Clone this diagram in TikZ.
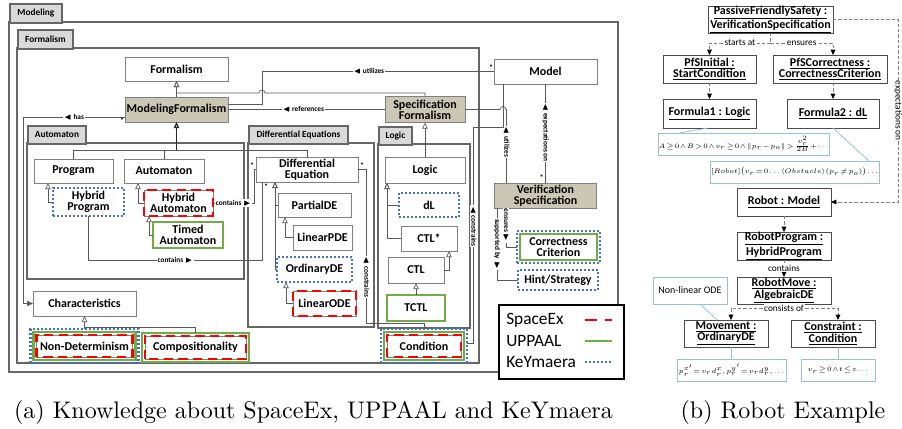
\documentclass[tikz,border=0pt]{standalone}
\usepackage{fontspec}
\usepackage{amsmath,amssymb}
\newfontfamily\calibri{Carlito}
\usepackage{xcolor}
\usepackage{tikz}
\usetikzlibrary{positioning}
\usetikzlibrary{arrows,arrows.meta,shapes}
\usetikzlibrary{calc}
\definecolor{tanbox}{RGB}{204,199,181}
\definecolor{tabgray}{RGB}{217,217,217}
\definecolor{spxred}{RGB}{255,0,0}
\definecolor{uplgreen}{RGB}{112,173,71}
\definecolor{kymblue}{RGB}{68,114,196}
\definecolor{noteblue}{RGB}{150,190,228}
\newcommand{\notemath}{\fontsize{5.5}{6.5}\selectfont\thickmuskip=2mu\medmuskip=1mu\thinmuskip=1.5mu}
\tikzstyle{frame}=[draw=black!60, line width=1.4pt]
\tikzstyle{tab}=[frame, rectangle, fill=tabgray, font=\calibri\bfseries\fontsize{7}{8}\selectfont, inner sep=0pt]
\tikzstyle{cls}=[rectangle, draw=black!50, fill=white, font=\calibri\bfseries\fontsize{9}{8.5}\selectfont, align=center, inner sep=0pt, outer sep=0pt]
\tikzstyle{tancls}=[cls, fill=tanbox]
\tikzstyle{obj}=[cls, draw=black!70, line width=0.6pt]
\tikzstyle{note}=[rectangle, draw=noteblue, line width=0.7pt, fill=white, inner sep=0pt, outer sep=0pt]
\tikzstyle{spx}=[draw=spxred, line width=2pt, dash pattern=on 7pt off 4pt]
\tikzstyle{upl}=[draw=uplgreen, line width=2pt]
\tikzstyle{kym}=[draw=kymblue, line width=2pt, dash pattern=on 1.5pt off 1.5pt]
\tikzstyle{conn}=[draw=black!65, line width=0.5pt]
\tikzstyle{gen}=[conn, -{Triangle[open, length=4.5pt, width=4pt]}]
\tikzstyle{lbl}=[font=\calibri\bfseries\fontsize{5.5}{6}\selectfont, fill=white, inner sep=0.6pt]
\tikzstyle{mult}=[font=\calibri\bfseries\fontsize{6}{6}\selectfont, inner sep=0pt]
\tikzstyle{dline}=[draw=black!50, line width=0.6pt, dash pattern=on 2.5pt off 1.5pt]
\tikzstyle{dep}=[dline, -{Triangle[length=4pt, width=3.5pt, color=black]}]
\tikzstyle{noteln}=[draw=noteblue, line width=0.6pt]
\tikzstyle{rlbl}=[font=\calibri\fontsize{7}{8}\selectfont, fill=white, inner sep=0.5pt]
\tikzstyle{caption}=[font=\fontsize{10}{12}\selectfont, scale=1.8, anchor=base]
\tikzset{sz/.style 2 args={minimum width=#1*0.75pt, minimum height=#2*0.75pt}}

\begin{document}
\begin{tikzpicture}[x=0.75pt, y=-0.75pt]
\useasboundingbox (0,0) rectangle (902,428);

 %frames
 \draw[frame] (9,22) rectangle (618,372);
 \node[tab, sz={52}{19}, anchor=north west] (tabmod) at (9,3) {Modeling};
 \draw[frame] (17,48) rectangle (479,363);
 \node[tab, sz={55}{19}, anchor=north west] (tabfrm) at (17,29) {Formalism};
 \draw[frame] (27,143) rectangle (244,279);
 \node[tab, sz={58}{18}, anchor=north west] (tabaut) at (27,125) {Automaton};
 \draw[frame] (248,143) rectangle (374,327);
 \node[tab, sz={99}{18}, anchor=north west] (tabde) at (248,125) {Differential Equations};
 \draw[frame] (378,144) rectangle (470,328);
 \node[tab, sz={33}{18}, anchor=north west] (tablog) at (378,126) {Logic};

 %classes
 \foreach \x/\y/\w/\h/\name/\label in {
   176.5/69/103/24/frm/Formalism, 73.5/171/79/24/prog/Program, 164/171/80/24/aut/Automaton,
   307/169.5/102/25/diffeq/{Differential\\Equation}, 314.5/205/73/24/pde/PartialDE,
   322.5/237.5/59/25/lpde/LinearPDE, 425/170/80/26/logic/Logic, 429/238.5/56/25/ctls/CTL*,
   416/270/56/26/ctl/CTL, 545.5/71.5/103/25/model/Model, 84.5/303.5/103/25/chars/Characteristics,
   178.5/203/69/26/haut/{Hybrid\\Automaton}, 324.5/303.5/63/25/lode/LinearODE,
   424/346/74/22/cond/Condition, 84.5/346/96/22/nondet/Non-Determinism,
   195.5/347.5/101/23/comp/Compositionality}
    \node[cls, sz={\w}{\h}] (\name) at (\x,\y) {\label};

 \foreach \x/\y/\w/\h/\name/\label in {
   176.5/109.5/103/25/modf/ModelingFormalism, 425/109.5/80/26/specf/{Specification\\Formalism},
   545.5/195.5/102/25/vspec/{Verification\\Specification}}
    \node[tancls, sz={\w}{\h}] (\name) at (\x,\y) {\label};

 \foreach \x/\y/\w/\h/\name/\label in {
   88.5/202/71/28/hprog/{Hybrid\\Program}, 314.5/269.5/75/25/ode/OrdinaryDE, 429/205/60/24/dl/dL}
    \node[cls, kym, sz={\w}{\h}] (\name) at (\x,\y) {\label};
 \node[cls, kym, sz={80}{20}] (hint) at (558,280) {Hint/Strategy};

 \foreach \x/\y/\w/\h/\name/\label in {
   188/235/70/26/taut/{Timed\\Automaton}, 416/308/58/26/tctl/TCTL, 558.5/247/77/26/corr/{Correctness\\Criterion}}
    \node[cls, upl, sz={\w}{\h}] (\name) at (\x,\y) {\label};

 %tool marks
 \foreach \name in {haut, lode, cond, nondet, comp}
    \draw[spx] (\name.south west) rectangle (\name.north east);
 \foreach \name in {cond, nondet, comp}
    \draw[upl] ($(\name.south west)+(-3,3)$) rectangle ($(\name.north east)+(3,-3)$);
 \foreach \name in {cond, nondet}
    \draw[kym] ($(\name.south west)+(-6,6)$) rectangle ($(\name.north east)+(6,-6)$);
 \draw[kym] ($(corr.south west)+(-3,3)$) rectangle ($(corr.north east)+(3,-3)$);

 %generalizations
 \coordinate (hopA) at (262,93);
 \coordinate (bus) at (176.5,150);
 \draw[gen] (modf.north) -- (frm.south);
 \draw[gen] (specf.north) |- ($(hopA)+(3,0)$) arc[start angle=0, end angle=-180, radius=3] -| (frm.south);
 \draw[conn] (prog.north) |- (bus);
 \draw[conn] (aut.north) |- (bus);
 \draw[conn] (diffeq.north) |- (bus);
 \draw[gen, line width=0.9pt, draw=black!85] (bus) -- (modf.south);
 \draw[gen] (hprog.west) -- ++(-5,0) -- ($(prog.south west)+(14,0)$);
 \draw[gen] (haut.west) -- ++(-6,0) -- ($(aut.south west)+(14,0)$);
 \draw[gen] (taut.west) -- ++(-4,0) -- ($(haut.south west)+(5,0)$);
 \draw[gen] (pde.west) -| ($(diffeq.south west)+(19,0)$);
 \draw[gen] (ode.west) -| ($(diffeq.south west)+(19,0)$);
 \draw[gen] (lpde.west) -| ($(pde.south west)+(7,0)$);
 \draw[gen] (lode.west) -| ($(ode.south west)+(9,0)$);
 \draw[gen] (logic.north) -- (specf.south);
 \draw[gen] (dl.west) -| ($(logic.south west)+(2,0)$);
 \draw[gen] (ctls.west) -| ($(logic.south west)+(2,0)$);
 \draw[gen] (ctl.east) -| ($(ctls.south east)+(-8,0)$);
 \draw[gen] (tctl.north) -- (ctl.south);
 \draw[gen] ($(nondet.north)+(0,-6)$) -- (chars.south);
 \draw[conn] ($(comp.north)+(0,-3)$) |- ($(chars.south)+(0,11)$);

 %associations
 \draw[conn, -{Triangle[length=4.5pt, width=4pt]}] ($(modf.south west)+(0,-5)$) -- ++(-102,0)
    node[lbl, pos=0.5] {$\blacktriangleleft$ has} |- (chars.west);
 \node[mult] (st1) at ($(modf.south west)+(-3,-1)$) {*};
 \draw[conn] (haut.east) -- ++(41,0) node[lbl, pos=0.5] {contains $\blacktriangleright$} |- (diffeq.west);
 \node[mult] (st2) at ($(diffeq.west)+(-4,-4)$) {*};
 \coordinate (c2) at ($(diffeq.south west)+(6,78)$);
 \draw[conn] (hprog.south) |- (c2) node[lbl, pos=0.75] {contains $\blacktriangleright$}
    -- ($(diffeq.south west)+(6,0)$);
 \node[mult] (st3) at ($(diffeq.south west)+(10,5)$) {*};
 \draw[conn] (modf.east) -- (specf.west) node[lbl, pos=0.48] {$\blacktriangleleft$ references};
 \draw[conn] (model.west) -- ++(-232,0) node[lbl, pos=0.54] {$\blacktriangleleft$ utilizes}
    |- ($(modf.east)+(0,-5.5)$);
 \node[mult] (st4) at ($(model.west)+(-3,-4)$) {*};
 \draw[conn] ($(vspec.north west)+(12,0)$) -- ++(0,-73.5)
    node[lbl, rotate=-90, pos=0.56] {$\blacktriangleleft$ utilizes}
    -- ($(model.south west |- specf.east)+(12,0)$) arc[start angle=0, end angle=-180, radius=3] -- (specf.east);
 \draw[conn] (model.south) -- (vspec.north) node[lbl, rotate=-90, pos=0.49] {$\blacktriangleleft$ expectations on};
 \node[mult] (st5) at ($(vspec.north)+(-4,-5)$) {*};
 \draw[conn] ($(cond.east)+(6,-3)$) -- ++(6.5,0) |- ($(model.south west)+(9,43)$)
    node[lbl, rotate=-90, pos=0.27] {$\blacktriangleleft$ constrains} -- ($(model.south west)+(9,0)$);
 \draw[conn] ($(cond.north)+(0,-6)$) -- ++(0,-6) -| ($(diffeq.east)+(8.5,0)$)
    node[lbl, rotate=-90, pos=0.65] {$\blacktriangleleft$ constrains} -- (diffeq.east);
 \node[mult] (st6) at ($(diffeq.east)+(4,-4)$) {*};
 \draw[conn] ($(vspec.south west)+(11.5,0)$) |- ($(corr.west)+(-3,0)$)
    node[lbl, rotate=-90, pos=0.22] {ensures $\blacktriangleright$};
 \draw[conn] ($(vspec.south west)+(2.5,0)$) |- (hint.west)
    node[lbl, rotate=-90, pos=0.25] {supported by $\blacktriangleright$};

 %legend
 \node[draw=black, line width=1.5pt, fill=white, sz={125}{74}, anchor=north west] (legend) at (498,304) {};
 \foreach \y/\name/\label in {320/lspx/SpaceEx, 341/lupl/UPPAAL, 362/lkym/KeYmaera}
    \node[font=\calibri\fontsize{13}{14}\selectfont, anchor=west, inner sep=0pt] (\name) at (506,\y) {\label};
 \draw[spx, dash pattern=on 9pt off 6pt] (585,320) -- (612,320);
 \draw[upl] (585,341) -- (612,341);
 \draw[kym] (585,362) -- (612,362);

 %robot example
 \foreach \x/\y/\w/\h/\name/\label in {
   770.5/19.5/125/27/pfs/{\underline{PassiveFriendlySafety :}\\\underline{VerificationSpecification}},
   709.5/69/93/28/pfsi/{\underline{PfSInitial :}\\\underline{StartCondition}},
   830/69/114/28/pfsc/{\underline{PfSCorrectness :}\\\underline{CorrectnessCriterion}},
   709.5/113.5/93/29/fa/{\underline{Formula1 : Logic}}, 833/113.5/92/29/fb/{\underline{Formula2 : dL}},
   784/202/94/28/robot/{\underline{Robot : Model}},
   784/246/94/28/rprog/{\underline{RobotProgram :}\\\underline{HybridProgram}},
   784/290.5/94/27/rmove/{\underline{RobotMove :}\\\underline{AlgebraicDE}},
   726/333.5/84/27/mov/{\underline{Movement :}\\\underline{OrdinaryDE}},
   833/333.5/84/27/cons/{\underline{Constraint :}\\\underline{Condition}}}
    \node[obj, sz={\w}{\h}] (\name) at (\x,\y) {\label};

 \node[note, sz={164}{22}] (na) at (744,144)
    {\notemath $A\geq 0\wedge B>0\wedge v_r\geq 0\wedge\|p_r-p_o\|>\frac{v_r^2}{2B}+\cdots$};
 \node[note, sz={169}{22}] (nb) at (794.5,172)
    {\notemath $[Robot]\big(v_r=0\ldots\langle Obstacle\rangle(p_r\neq p_o)\big)\ldots$};
 \node[note, sz={74}{27}, font=\calibri\fontsize{7.5}{8}\selectfont] (nlode) at (690,290.5) {Non-linear ODE};
 \node[note, sz={109}{22}] (nc) at (731.5,370)
    {\notemath $p_r^{x'}\!=v_r d_r^x, p_r^{y'}\!=v_r d_r^y,\ldots$};
 \node[note, sz={74}{22}] (nd) at (838,370)
    {\notemath $v_r\geq 0\wedge t\leq\varepsilon\ldots$};

 \draw[dline] (pfs.south) -- ++(0,10) coordinate (sp1);
 \draw[dep] (sp1) -| (pfsi.north) node[rlbl, pos=0.25] {starts at};
 \draw[dep] (sp1) -| (pfsc.north -| fb.north) node[rlbl, pos=0.25] {ensures};
 \draw[dep] (pfsi.south) -- (fa.north);
 \draw[dep] (pfsc.south -| fb.north) -- (fb.north);
 \draw[noteln] ($(fa.south)+(-1.5,0)$) -- ($(na.north west)+(21,0)$);
 \draw[noteln] (fb.south) -- ($(nb.north east)+(-10,0)$);
 \draw[dep] (pfs.east) -- ++(65,0) |- (robot.east) node[rlbl, rotate=-90, pos=0.25] {expectations on};
 \draw[dep] (robot.south) -- (rprog.north);
 \draw[dep] (rprog.south) -- (rmove.north) node[rlbl, midway] {contains};
 \draw[dline] (rmove.south) -- ++(0,4) coordinate (sp2);
 \draw[dep] (sp2) -| ($(mov.north)+(5,0)$);
 \draw[dep] (sp2) -| ($(cons.north)+(5,0)$);
 \node[rlbl] (lblcons) at (sp2) {consists of};
 \draw[noteln] ($(nlode.south)+(10,0)$) -- ($(mov.north west)+(33,0)$);
 \draw[noteln] (mov.south -| nc.north) -- (nc.north);
 \draw[noteln] (cons.south -| nd.north) -- (nd.north);

 %captions
 \node[caption] (capa) at (313.5,418) {(a) Knowledge about SpaceEx, UPPAAL and KeYmaera};
 \node[caption] (capb) at (783,418) {(b) Robot Example};

\end{tikzpicture}
\end{document}
